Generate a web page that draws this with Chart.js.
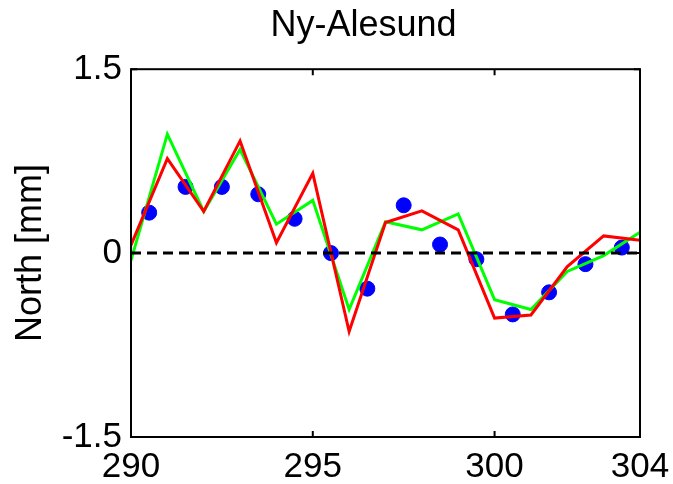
<!DOCTYPE html>
<html>
<head>
<meta charset="utf-8">
<script src="https://cdn.jsdelivr.net/npm/chart.js@4"></script>
<style>
  body { margin: 0; background: #fff; }
  #wrap { width: 673px; height: 484px; }
</style>
</head>
<body>
<div id="wrap"><canvas id="myChart"></canvas></div>
<script>
// data
const days = [290, 291, 292, 293, 294, 295, 296, 297, 298, 299, 300, 301, 302, 303, 304];
const greenModel = [-0.06, 0.97, 0.34, 0.845, 0.236, 0.43, -0.46, 0.255, 0.19, 0.32, -0.38, -0.46, -0.15, -0.02, 0.17];
const redModel = [0.065, 0.77, 0.34, 0.915, 0.084, 0.65, -0.64, 0.25, 0.345, 0.19, -0.53, -0.505, -0.11, 0.14, 0.105];
const obsDays = [290.5, 291.5, 292.5, 293.5, 294.5, 295.5, 296.5, 297.5, 298.5, 299.5, 300.5, 301.5, 302.5, 303.5];
const obsValues = [0.33, 0.54, 0.54, 0.48, 0.28, 0.0, -0.29, 0.39, 0.07, -0.05, -0.5, -0.32, -0.09, 0.045];
const xTicks = [290, 295, 300, 304];
const yTicks = [-1.5, 0, 1.5];

const FONT = "'Liberation Sans', Arial, sans-serif";

function pairs(xs, ys) {
    return xs.map((x, i) => ({ x: x, y: ys[i] }));
}

// box round the plot and small inward ticks, matlab style
const boxPlugin = {
    id: 'box',
    afterLayout(chart) {
        // title sits a bit right of the page centre in the original
        if (chart.titleBlock) {
            chart.titleBlock.left += 27;
            chart.titleBlock.right += 27;
        }
    },
    afterDraw(chart) {
        const ctx = chart.ctx;
        const a = chart.chartArea;
        const xs = chart.scales.x, ys = chart.scales.y;
        ctx.save();
        ctx.strokeStyle = '#000';
        ctx.lineWidth = 2;
        ctx.strokeRect(a.left, a.top, a.right - a.left, a.bottom - a.top);
        const len = 6;
        ctx.beginPath();
        xTicks.forEach(v => {
            const px = xs.getPixelForValue(v);
            ctx.moveTo(px, a.bottom); ctx.lineTo(px, a.bottom - len);
            ctx.moveTo(px, a.top); ctx.lineTo(px, a.top + len);
        });
        yTicks.forEach(v => {
            const py = ys.getPixelForValue(v);
            ctx.moveTo(a.left, py); ctx.lineTo(a.left + len, py);
            ctx.moveTo(a.right, py); ctx.lineTo(a.right - len, py);
        });
        ctx.stroke();
        ctx.restore();
    }
};

const ctx = document.getElementById('myChart').getContext('2d');
const myChart = new Chart(ctx, {
    type: 'scatter',
    data: {
        datasets: [{
            type: 'line',
            data: pairs([days[0], days[days.length - 1]], [0, 0]),
            borderColor: '#000',
            borderWidth: 3,
            borderDash: [10, 6],
            pointRadius: 0,
            order: 0
        }, {
            type: 'line',
            data: pairs(days, redModel),
            borderColor: '#ff0000',
            borderWidth: 3,
            pointRadius: 0,
            tension: 0,
            order: 1
        }, {
            type: 'line',
            data: pairs(days, greenModel),
            borderColor: '#00ff00',
            borderWidth: 3,
            pointRadius: 0,
            tension: 0,
            order: 2
        }, {
            data: pairs(obsDays, obsValues),
            backgroundColor: '#0000ff',
            borderColor: '#0000ff',
            pointRadius: 7.5,
            showLine: false,
            order: 3
        }]
    },
    options: {
        responsive: true,
        maintainAspectRatio: false,
        animation: false,
        layout: { padding: 0 },
        plugins: {
            legend: { display: false },
            tooltip: { enabled: false },
            title: {
                display: true,
                text: 'Ny-Alesund',
                color: '#000',
                font: { family: FONT, size: 36, weight: 'normal' },
                padding: { top: 4, bottom: 22 }
            }
        },
        scales: {
            x: {
                type: 'linear',
                min: 290,
                max: 304,
                grid: { display: false, drawTicks: false, tickLength: 0 },
                border: { display: false },
                ticks: {
                    color: '#000',
                    font: { family: FONT, size: 35 },
                    padding: 9,
                    maxRotation: 0,
                    autoSkip: false
                },
                afterBuildTicks: s => { s.ticks = xTicks.map(v => ({ value: v })); },
                afterFit: s => { s.height = 47; s.paddingRight = 33; s.paddingLeft = 0; }
            },
            y: {
                type: 'linear',
                min: -1.5,
                max: 1.5,
                grid: { display: false, drawTicks: false, tickLength: 0 },
                border: { display: false },
                ticks: {
                    color: '#000',
                    font: { family: FONT, size: 35 },
                    padding: 9,
                    autoSkip: false
                },
                title: {
                    display: true,
                    text: 'North [mm]',
                    color: '#000',
                    font: { family: FONT, size: 36 },
                    padding: { top: 9, bottom: 0 }
                },
                afterBuildTicks: s => { s.ticks = yTicks.map(v => ({ value: v })); },
                afterFit: s => { s.width = 131; }
            }
        }
    },
    plugins: [boxPlugin]
});
</script>
</body>
</html>
